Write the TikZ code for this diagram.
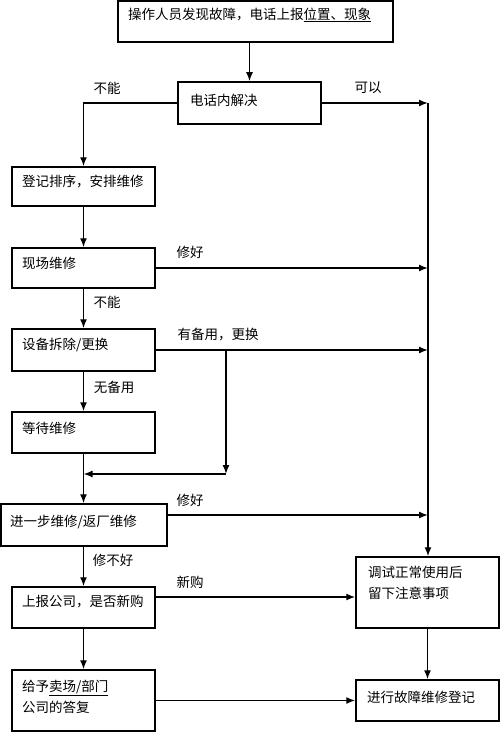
\documentclass[tikz,border=0pt]{standalone}
\usepackage{fontspec}
\setmainfont{Noto Sans CJK SC}
\usetikzlibrary{arrows.meta}
\begin{document}
\begin{tikzpicture}[x=1pt,y=-1pt,
  box/.style={draw,line width=1.5pt,rectangle,inner sep=0pt},
  txt/.style={anchor=west,inner sep=0pt,align=left,font=\fontsize{13.5}{21}\selectfont},
  lbl/.style={inner sep=0pt,font=\fontsize{13.5}{16}\selectfont},
  arr/.style={line width=1.4pt,-{Latex[length=9pt,width=7pt]}},
  ln/.style={line width=1.4pt}]
\useasboundingbox (0,0) rectangle (500,733);
% boxes
\node[box,minimum width=275pt,minimum height=41pt] (top) at (255.5,21.5) {};
\node[box,minimum width=143pt,minimum height=42pt] (phone) at (249.5,103) {};
\node[box,minimum width=143pt,minimum height=39pt] (reg) at (83.5,186.5) {};
\node[box,minimum width=143pt,minimum height=40pt] (site) at (83.5,268) {};
\node[box,minimum width=143pt,minimum height=42pt] (dism) at (83.5,350) {};
\node[box,minimum width=143pt,minimum height=41pt] (wait) at (83.5,432.5) {};
\node[box,minimum width=166pt,minimum height=42pt] (further) at (84,525) {};
\node[box,minimum width=143pt,minimum height=41pt] (report) at (83.5,607.5) {};
\node[box,minimum width=143pt,minimum height=61pt] (reply) at (83.5,700.5) {};
\node[box,minimum width=143pt,minimum height=71pt] (debug) at (427.5,592.5) {};
\node[box,minimum width=143pt,minimum height=41pt] (record) at (427.5,700.5) {};
% box texts
\node[txt] (ttop) at (128,15) {操作人员发现故障，电话上报\underline{位置、现象}};
\node[txt] (tphone) at (190,100) {电话内解决};
\node[txt] (treg) at (22,182) {登记排序，安排维修};
\node[txt] (tsite) at (22,263) {现场维修};
\node[txt] (tdism) at (22,345) {设备拆除/更换};
\node[txt] (twait) at (22,428) {等待维修};
\node[txt] (tfurther) at (10,522) {进一步维修/返厂维修};
\node[txt] (treport) at (22,602) {上报公司，是否新购};
\node[txt] (treply) at (22,696.5) {给予\underline{卖场/部门}\\公司的答复};
\node[txt] (tdebug) at (368,582.5) {调试正常使用后\\留下注意事项};
\node[txt] (trecord) at (367,697) {进行故障维修登记};
% labels
\node[lbl] (l1) at (107,88) {不能};
\node[lbl] (l2) at (368,88) {可以};
\node[lbl] (l3) at (190,252) {修好};
\node[lbl] (l4) at (107,302) {不能};
\node[lbl] (l5) at (218,335) {有备用，更换};
\node[lbl] (l6) at (114,387) {无备用};
\node[lbl] (l7) at (190,500) {修好};
\node[lbl] (l8) at (113,560) {修不好};
\node[lbl] (l9) at (190,582) {新购};
% coordinates
\coordinate (rc) at (428,103);
\coordinate (br) at (226,350);
\coordinate (brd) at (226,474);
\coordinate (f1) at ([yshift=10pt]further.east);
\coordinate (r1) at ([yshift=10.5pt]report.east);
% connectors
\draw[arr] (phone.north |- top.south) -- (phone.north);
\draw[arr] (phone.west) -| (reg.north);
\draw[arr] (phone.east) -- (rc);
\draw[arr] (rc) -- (rc |- debug.north);
\draw[arr] (reg.south) -- (site.north);
\draw[arr] (site.east) -- (site.east -| rc);
\draw[arr] (site.south) -- (dism.north);
\draw[arr] (dism.east) -- (dism.east -| rc);
\draw[arr] (br) -- (brd);
\draw[arr] (brd) -- (brd -| wait.south);
\draw[arr] (dism.south) -- (wait.north);
\draw[arr] (wait.south) -- (wait.south |- further.north);
\draw[arr] (f1) -- (f1 -| rc);
\draw[arr] (further.south -| report.north) -- (report.north);
\draw[arr] (r1) -- (r1 -| debug.west);
\draw[arr] (report.south) -- (reply.north);
\draw[arr] (reply.east) -- (reply.east -| record.west);
\draw[arr] (debug.south) -- (record.north);
\end{tikzpicture}
\end{document}
